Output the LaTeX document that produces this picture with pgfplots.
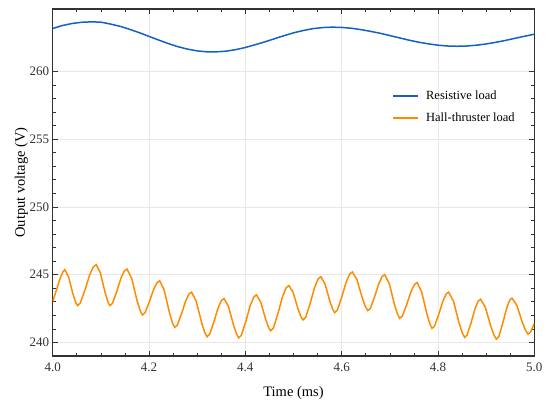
\documentclass[border=0pt]{standalone}
\usepackage{pgfplots}
\pgfplotsset{compat=1.18}
\usepackage{fontspec}
\setmainfont{Liberation Serif}
\usetikzlibrary{calc}
\definecolor{resblue}{RGB}{21,96,200}
\definecolor{hallorange}{RGB}{255,140,0}
\definecolor{axgray}{RGB}{50,50,50}
\definecolor{gridgray}{RGB}{232,232,232}
\begin{document}
\begin{tikzpicture}
\begin{axis}[
  scale only axis,
  width=481.6pt, height=347pt,
  xmin=4.0, xmax=5.0,
  ymin=239.0, ymax=264.6,
  xtick={4.0,4.2,4.4,4.6,4.8,5.0},
  ytick={240,245,250,255,260},
  minor x tick num=3,
  minor y tick num=4,
  tick align=inside,
  xtick pos=both, ytick pos=both,
  major tick length=5pt,
  minor tick length=3pt,
  every tick/.style={axgray, line width=0.6pt},
  axis line style={axgray, line width=1.1pt},
  grid=major,
  major grid style={gridgray, line width=0.5pt},
  /pgf/number format/assume math mode=true,
  xticklabel style={/pgf/number format/fixed, /pgf/number format/fixed zerofill, /pgf/number format/precision=1, yshift=-3pt},
  tick label style={font=\fontsize{13}{15}\selectfont, text=axgray},
  label style={font=\fontsize{14.5}{17}\selectfont},
  xlabel={Time (ms)},
  ylabel={Output voltage (V)},
  xlabel style={at={(axis description cs:0.5,0)}, anchor=base, yshift=-40pt},
  ylabel style={at={([xshift=-27.7pt]axis description cs:0,0.5)}, anchor=base},
  legend style={draw=none, fill=none, at={(axis description cs:0.970,0.775)}, anchor=north east,
    font=\fontsize{12.5}{14}\selectfont, row sep=7.5pt, column sep=5pt},
  legend cell align=left,
  legend image code/.code={\draw[#1, line width=2pt] (0pt,0pt) -- (25pt,0pt);},
]
\addplot[color=resblue, line width=1.5pt] coordinates {
(4.00,263.16) (4.02,263.38) (4.04,263.53) (4.06,263.62) (4.08,263.65) (4.10,263.63)
(4.12,263.49) (4.14,263.32) (4.16,263.10) (4.18,262.85) (4.20,262.58) (4.22,262.31)
(4.24,262.05) (4.26,261.82) (4.28,261.64) (4.30,261.51) (4.32,261.44) (4.34,261.44)
(4.36,261.49) (4.38,261.60) (4.40,261.76) (4.42,261.96) (4.44,262.17) (4.46,262.40)
(4.48,262.63) (4.50,262.84) (4.52,263.01) (4.54,263.15) (4.56,263.23) (4.58,263.26)
(4.60,263.24) (4.62,263.18) (4.64,263.08) (4.66,262.95) (4.68,262.81) (4.70,262.64)
(4.72,262.47) (4.74,262.30) (4.76,262.15) (4.78,262.03) (4.80,261.93) (4.82,261.87)
(4.84,261.85) (4.86,261.87) (4.88,261.93) (4.90,262.02) (4.92,262.14) (4.94,262.28)
(4.96,262.44) (4.98,262.59) (5.00,262.74)
};
\addlegendentry{Resistive load}
\addplot[color=hallorange, line width=1.5pt] coordinates {
(4.000,243.01) (4.008,243.90) (4.016,244.80) (4.021,245.20) (4.025,245.37)
(4.0329,244.84) (4.0421,243.57) (4.0474,242.99) (4.0513,242.72)
(4.0572,242.90) (4.0670,243.87) (4.0768,244.99) (4.0846,245.59) (4.0905,245.74)
(4.0989,245.14) (4.1088,243.69) (4.1144,243.02) (4.1186,242.72)
(4.1240,242.88) (4.1329,243.75) (4.1418,244.75) (4.1489,245.29) (4.1543,245.42)
(4.1639,244.74) (4.1750,243.11) (4.1814,242.37) (4.1862,242.03)
(4.1916,242.18) (4.2006,242.99) (4.2096,243.92) (4.2168,244.42) (4.2222,244.55)
(4.2315,243.86) (4.2424,242.21) (4.2486,241.45) (4.2533,241.11)
(4.2586,241.27) (4.2673,242.10) (4.2761,243.06) (4.2831,243.58) (4.2884,243.71)
(4.2980,243.05) (4.3092,241.47) (4.3156,240.75) (4.3204,240.42)
(4.3257,240.59) (4.3345,241.49) (4.3433,242.54) (4.3504,243.10) (4.3557,243.24)
(4.3649,242.66) (4.3755,241.27) (4.3816,240.63) (4.3862,240.34)
(4.3917,240.53) (4.4009,241.54) (4.4101,242.72) (4.4175,243.35) (4.4230,243.51)
(4.4319,242.98) (4.4422,241.71) (4.4481,241.12) (4.4525,240.86)
(4.4582,241.06) (4.4677,242.13) (4.4771,243.37) (4.4847,244.03) (4.4904,244.20)
(4.4992,243.69) (4.5094,242.47) (4.5153,241.91) (4.5197,241.66)
(4.5253,241.85) (4.5345,242.87) (4.5438,244.05) (4.5512,244.69) (4.5568,244.85)
(4.5654,244.32) (4.5755,243.05) (4.5812,242.46) (4.5855,242.20)
(4.5910,242.38) (4.6001,243.34) (4.6093,244.45) (4.6166,245.05) (4.6221,245.20)
(4.6318,244.63) (4.6430,243.26) (4.6495,242.63) (4.6543,242.35)
(4.6596,242.51) (4.6683,243.36) (4.6771,244.34) (4.6841,244.87) (4.6894,245.00)
(4.6987,244.36) (4.7096,242.81) (4.7158,242.10) (4.7205,241.78)
(4.7259,241.94) (4.7350,242.78) (4.7441,243.76) (4.7514,244.29) (4.7568,244.42)
(4.7660,243.74) (4.7768,242.12) (4.7830,241.38) (4.7876,241.04)
(4.7928,241.20) (4.8014,242.05) (4.8101,243.04) (4.8170,243.58) (4.8222,243.71)
(4.8322,243.04) (4.8438,241.44) (4.8505,240.70) (4.8555,240.37)
(4.8604,240.54) (4.8687,241.44) (4.8769,242.49) (4.8835,243.05) (4.8884,243.19)
(4.8983,242.60) (4.9098,241.18) (4.9164,240.53) (4.9213,240.24)
(4.9262,240.42) (4.9343,241.39) (4.9424,242.51) (4.9488,243.12) (4.9537,243.27)
(4.9637,242.74) (4.9753,241.47) (4.9819,240.88) (4.9869,240.62)
(4.9925,240.78) (5.000,241.41)
};
\addlegendentry{Hall-thruster load}
\end{axis}
\path ($(current axis.south west)+(-52.7pt,-48pt)$) rectangle ($(current axis.north east)+(15.7pt,9pt)$);
\end{tikzpicture}
\end{document}
